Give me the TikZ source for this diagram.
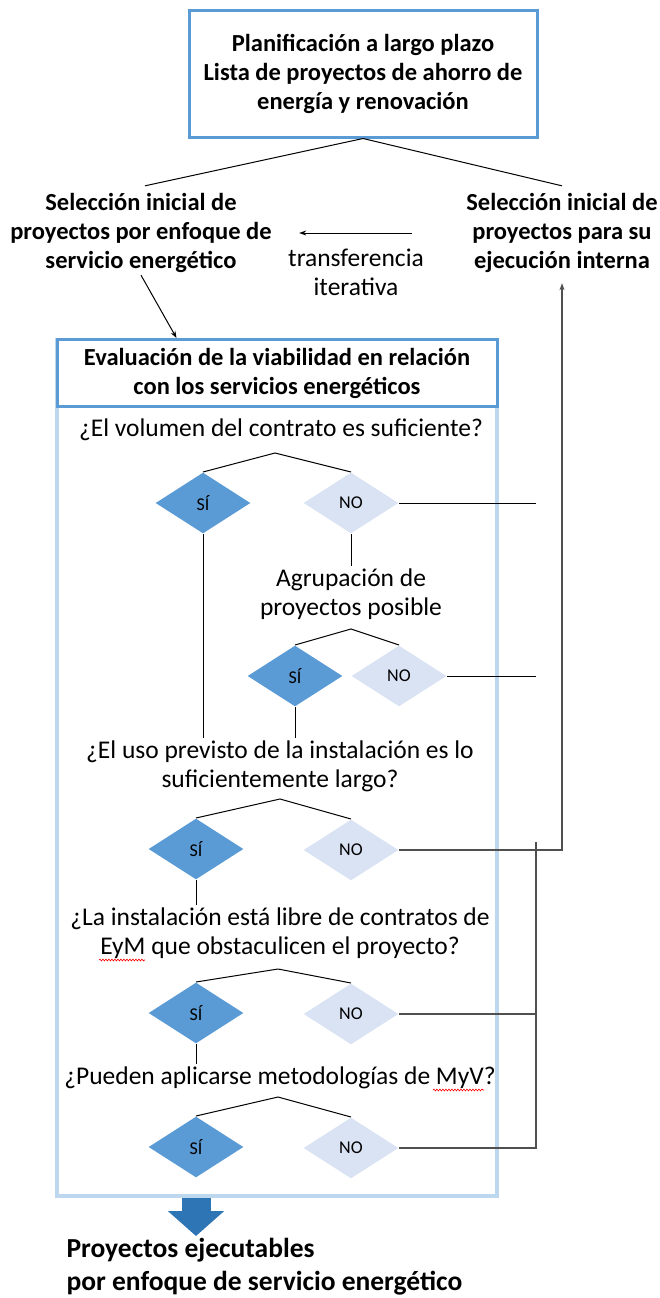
\documentclass[tikz,border=0pt]{standalone}
\usepackage{fontspec}
\setmainfont{Carlito}
\usetikzlibrary{shapes.geometric,arrows.meta,decorations.pathmorphing}
\definecolor{hdblue}{RGB}{91,155,213}
\definecolor{boxblue}{RGB}{189,215,238}
\definecolor{noblue}{RGB}{218,227,243}
\definecolor{arrblue}{RGB}{46,117,182}
\definecolor{fbgray}{RGB}{80,80,80}
\newcommand\bigtx{\fontsize{25.5}{29}\selectfont}
\newcommand\bigbf{\fontsize{24.5}{29}\selectfont\bfseries}

\begin{document}
\begin{tikzpicture}[x=1pt, y=-1pt, line width=1pt, >={Stealth[length=7pt,width=5pt]}, font=\bigtx]
\tikzstyle{tx}=[draw=none, fill=none, align=center, inner sep=2pt, font=\bigtx]
\tikzstyle{hd}=[draw=hdblue, line width=3pt, align=center, font=\bigbf]
\tikzstyle{ys}=[diamond, fill=hdblue, minimum width=95pt, minimum height=61pt, inner sep=0pt, font=\fontsize{18}{20}\selectfont]
\tikzstyle{ns}=[ys, fill=noblue]
\tikzstyle{fb}=[draw=fbgray, line width=1.6pt]
\tikzstyle{sq}=[red, line width=0.6pt, decorate, decoration={snake, amplitude=0.9pt, segment length=3pt}]

\useasboundingbox (0,0) rectangle (659,1298);

% top of the plan
\node[hd, minimum width=348pt, minimum height=126pt] (P) at (363,74) {Planificación a largo plazo\\Lista de proyectos de ahorro de\\energía y renovación};
\node[tx, font=\bigbf] (S1) at (141,233) {Selección inicial de\\proyectos por enfoque de\\servicio energético};
\node[tx, font=\bigbf] (S2) at (562,233) {Selección inicial de\\proyectos para su\\ejecución interna};
\node[tx] (TI) at (356,272) {transferencia\\iterativa};

\draw (P.south) -- ([xshift=4pt,yshift=5pt]S1.north);
\draw (P.south) -- ([yshift=5pt]S2.north);
\draw[->] ([xshift=-52pt]S2.west) -- ([xshift=25pt]S1.east);

% evaluation box
\node[draw=boxblue, line width=4pt, minimum width=440pt, minimum height=856pt] (E) at (277,768) {};
\node[hd, fill=white, minimum width=440pt, minimum height=67pt, inner sep=0pt] (EH) at (277,373) {Evaluación de la viabilidad en relación\\con los servicios energéticos};
\draw[->] (S1.south) -- ([xshift=121pt]EH.north west);

\coordinate (C) at (536,842);

\node[tx] (Q1) at (281,430) {¿El volumen del contrato es suficiente?};
\coordinate (A1) at (275,453);
\node[ys] (Y1) at (203,503) {SÍ};
\node[ns] (N1) at (351,503) {NO};
\draw (Y1.north) -- (A1) -- (N1.north);
\draw (N1.east) -- (N1.east -| C);

\node[tx] (G) at (351,594) {Agrupación de\\proyectos posible};
\draw (N1.south) -- (G.north);
\coordinate (A2) at (351,629);
\node[ys] (Y2) at (295,676) {SÍ};
\node[ns] (N2) at (399,676) {NO};
\draw (Y2.north) -- (A2) -- (N2.north);
\draw (N2.east) -- (N2.east -| C);

\node[tx] (Q2) at (280,766) {¿El uso previsto de la instalación es lo\\suficientemente largo?};
\draw (Y1.south) -- (Y1.south |- Q2.north);
\draw (Y2.south) -- (Y2.south |- Q2.north);
\coordinate (A3) at (280,799);
\node[ys] (Y3) at (196,849) {SÍ};
\node[ns] (N3) at (351,850) {NO};
\draw (Y3.north) -- (A3) -- (N3.north);
\draw[fb, ->, shorten >=8pt] (N3.east) -| (S2.south);

\node[tx] (Q3) at (280,933) {¿La instalación está libre de contratos de\\EyM que obstaculicen el proyecto?};
\draw (Y3.south) -- (Y3.south |- Q3.north);
\coordinate (A4) at (278,969);
\node[ys] (Y4) at (196,1013) {SÍ};
\node[ns] (N4) at (351,1014) {NO};
\draw (Y4.north) -- (A4) -- (N4.north);
\draw[fb] (N4.east) -- (N4.east -| C);

\node[tx] (Q4) at (280,1078) {¿Pueden aplicarse metodologías de MyV?};
\draw (Y4.south) -- (Y4.south |- Q4.north);
\coordinate (A5) at (278,1097);
\node[ys] (Y5) at (196,1147) {SÍ};
\node[ns] (N5) at (351,1148) {NO};
\draw (Y5.north) -- (A5) -- (N5.north);
\draw[fb] (N5.east) -| (C);

% spell-check marks
\draw[sq] (99,960) -- (145,960);
\draw[sq] (433,1090) -- (484,1090);

% result
\node[tx, anchor=north west, align=left, font=\fontsize{27.5}{33}\selectfont\bfseries] (PE) at (64,1236) {Proyectos ejecutables\\por enfoque de servicio energético};
\coordinate (B) at (Y5.south |- E.south);
\draw[arrblue, line width=29pt, -{Triangle[length=25pt,width=55pt]}] (B) -- (B |- PE.north);
\end{tikzpicture}
\end{document}
